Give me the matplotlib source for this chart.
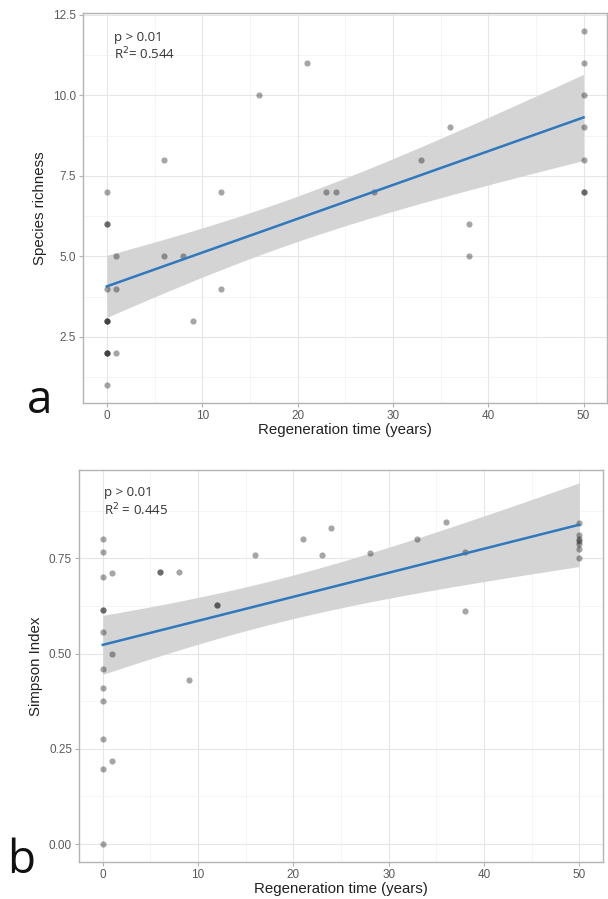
import matplotlib
matplotlib.use("Agg")
import matplotlib.pyplot as plt
from matplotlib.ticker import MultipleLocator
import numpy as np

# panel a: species richness vs regeneration time
rich_x = [0, 0, 0, 0, 0, 0, 0, 0, 0, 0, 0,
          1, 1, 1, 6, 6, 8, 9, 12, 12, 16, 21, 23, 24, 28, 33, 36, 38, 38,
          50, 50, 50, 50, 50, 50, 50]
rich_y = [7, 6, 6, 4, 3, 3, 3, 2, 2, 2, 1,
          5, 4, 2, 8, 5, 5, 3, 7, 4, 10, 11, 7, 7, 7, 8, 9, 6, 5,
          12, 11, 10, 9, 8, 7, 7]

# panel b: Simpson index vs regeneration time
simp_x = [0, 0, 0, 0, 0, 0, 0, 0, 0, 0, 0, 0,
          1, 1, 1, 6, 6, 8, 9, 12, 12, 16, 21, 23, 24, 28, 33, 36, 38, 38,
          50, 50, 50, 50, 50, 50, 50]
simp_y = [0.80, 0.766, 0.701, 0.614, 0.614, 0.556, 0.459, 0.41, 0.375, 0.277, 0.197, 0.0,
          0.711, 0.50, 0.218, 0.715, 0.715, 0.715, 0.43, 0.627, 0.627, 0.76, 0.80, 0.76,
          0.83, 0.765, 0.802, 0.845, 0.766, 0.612,
          0.843, 0.811, 0.802, 0.795, 0.787, 0.774, 0.752]


def lm_band(x, y):
    x = np.asarray(x, float)
    y = np.asarray(y, float)
    n = len(x)
    b, a = np.polyfit(x, y, 1)
    res = y - (a + b * x)
    s = np.sqrt(np.sum(res ** 2) / (n - 2))
    xs = np.linspace(x.min(), x.max(), 100)
    se = s * np.sqrt(1 / n + (xs - x.mean()) ** 2 / np.sum((x - x.mean()) ** 2))
    z, df = 1.959964, n - 2
    t = z + (z ** 3 + z) / (4 * df) + (5 * z ** 5 + 16 * z ** 3 + 3 * z) / (96 * df ** 2)
    fit = a + b * xs
    return xs, fit, fit - t * se, fit + t * se


def style(ax):
    ax.set_facecolor("white")
    for sp in ax.spines.values():
        sp.set_color("#b3b3b3")
        sp.set_linewidth(1.0)
    ax.grid(which="major", color="#e6e6e6", lw=0.8)
    ax.grid(which="minor", color="#f1f1f1", lw=0.5)
    ax.set_axisbelow(True)
    ax.tick_params(which="major", length=3, width=0.8, color="#b3b3b3",
                   labelcolor="#5a5a5a", labelsize=8.5, pad=2)
    ax.tick_params(which="minor", length=0)
    ax.xaxis.set_major_locator(MultipleLocator(10))
    ax.xaxis.set_minor_locator(MultipleLocator(5))
    ax.set_xlim(-2.5, 52.5)


plt.rcParams["font.family"] = ["Liberation Sans", "DejaVu Sans"]
fig = plt.figure(figsize=(6.08, 8.99), dpi=100)

ax1 = fig.add_axes([0.1365, 0.5517, 0.8625, 0.4338])
ax2 = fig.add_axes([0.1299, 0.0412, 0.8619, 0.4360])

for ax, x, y in [(ax1, rich_x, rich_y), (ax2, simp_x, simp_y)]:
    style(ax)
    xs, fit, lo, hi = lm_band(x, y)
    ax.fill_between(xs, lo, hi, color="#d4d4d4", lw=0, zorder=2)
    ax.scatter(x, y, s=20, color="black", alpha=0.35, lw=0, zorder=3)
    ax.plot(xs, fit, color="#2f78bd", lw=1.8, zorder=4)
    ax.set_xlabel("Regeneration time (years)", fontsize=10.8, color="#222222", labelpad=1)

ax1.set_ylim(0.45, 12.55)
ax1.yaxis.set_major_locator(MultipleLocator(2.5))
ax1.yaxis.set_minor_locator(MultipleLocator(1.25))
ax1.yaxis.set_major_formatter(lambda v, p: f"{v:.1f}")
ax1.set_ylabel("Species richness", fontsize=10.8, color="#222222", labelpad=4)
ax1.text(0.8, 11.79, "p > 0.01", fontsize=9.5, color="#333333", va="center",
         family=["Open Sans", "DejaVu Sans"])
ax1.text(0.8, 11.27, "R$^2$= 0.544", fontsize=9.5, color="#333333", va="center",
         family=["Open Sans", "DejaVu Sans"])

ax2.set_ylim(-0.047, 0.982)
ax2.yaxis.set_major_locator(MultipleLocator(0.25))
ax2.yaxis.set_minor_locator(MultipleLocator(0.125))
ax2.yaxis.set_major_formatter(lambda v, p: f"{v:.2f}")
ax2.set_ylabel("Simpson Index", fontsize=10.8, color="#222222", labelpad=4)
ax2.text(0.1, 0.924, "p > 0.01", fontsize=9.5, color="#333333", va="center",
         family=["Open Sans", "DejaVu Sans"])
ax2.text(0.1, 0.877, "R$^2$ = 0.445", fontsize=9.5, color="#333333", va="center",
         family=["Open Sans", "DejaVu Sans"])

fig.text(40 / 608, 1 - 413 / 899, "a", fontsize=33, ha="center", va="baseline",
         family=["Open Sans", "DejaVu Sans"], color="#111111")
fig.text(21 / 608, 1 - 873 / 899, "b", fontsize=33, ha="center", va="baseline",
         family=["Open Sans", "DejaVu Sans"], color="#111111")

fig.savefig("out.png", dpi=100, facecolor="white")
